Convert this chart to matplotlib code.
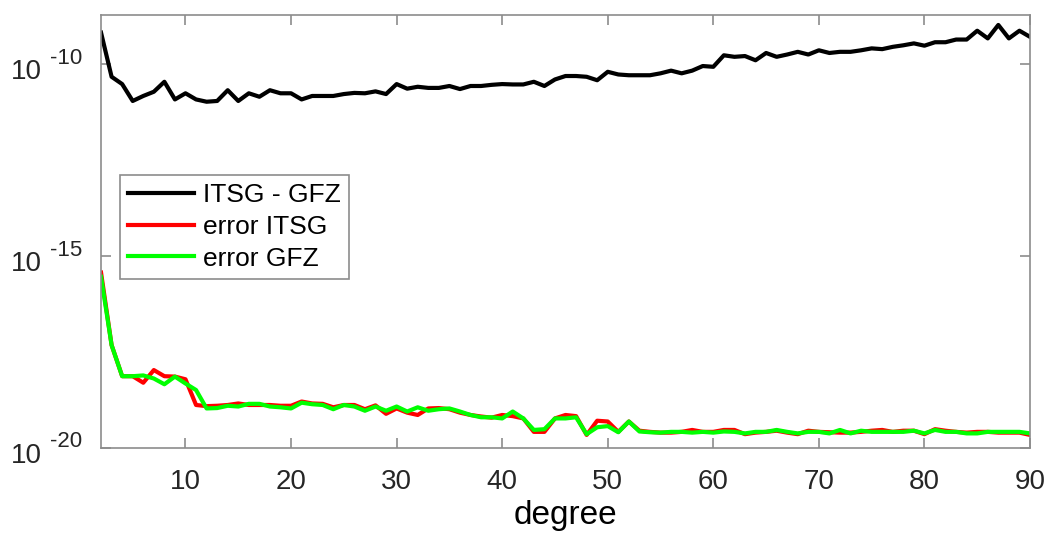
import numpy as np
import matplotlib
matplotlib.use("Agg")
import matplotlib.pyplot as plt
from matplotlib.ticker import FixedLocator, NullFormatter, NullLocator

plt.rcParams["font.family"] = ["Liberation Sans", "DejaVu Sans"]

# spherical harmonic degree 2..90
degree = np.arange(2, 91)

# log10 of the values
itsg_gfz_log = [
    -9.18, -10.33, -10.52, -10.96, -10.83, -10.72, -10.46, -10.92, -10.76,
    -10.92, -10.98, -10.96, -10.68, -10.96, -10.76, -10.85, -10.68, -10.76,
    -10.76, -10.92, -10.83, -10.83, -10.83, -10.78, -10.75, -10.76, -10.71,
    -10.78, -10.52, -10.64, -10.59, -10.62, -10.62, -10.57, -10.65, -10.57,
    -10.57, -10.54, -10.52, -10.53, -10.53, -10.46, -10.57, -10.40, -10.31,
    -10.31, -10.33, -10.42, -10.20, -10.27, -10.29, -10.29, -10.29, -10.24,
    -10.17, -10.24, -10.17, -10.05, -10.07, -9.77, -9.81, -9.79, -9.90,
    -9.71, -9.81, -9.75, -9.68, -9.75, -9.64, -9.71, -9.68, -9.68, -9.64,
    -9.59, -9.61, -9.55, -9.51, -9.46, -9.52, -9.43, -9.43, -9.36, -9.36,
    -9.13, -9.33, -8.98, -9.33, -9.13, -9.29,
]

error_itsg_log = [
    -15.43, -17.32, -18.13, -18.13, -18.30, -17.97, -18.13, -18.14, -18.21,
    -18.88, -18.91, -18.90, -18.88, -18.84, -18.88, -18.88, -18.88, -18.90,
    -18.90, -18.79, -18.84, -18.85, -18.94, -18.88, -18.88, -18.99, -18.89,
    -19.11, -18.97, -19.08, -19.14, -18.97, -18.96, -18.99, -19.08, -19.14,
    -19.18, -19.21, -19.14, -19.17, -19.23, -19.58, -19.58, -19.23, -19.14,
    -19.17, -19.66, -19.29, -19.31, -19.58, -19.31, -19.55, -19.58, -19.60,
    -19.60, -19.58, -19.53, -19.58, -19.58, -19.53, -19.53, -19.64, -19.60,
    -19.58, -19.55, -19.60, -19.64, -19.55, -19.58, -19.59, -19.60, -19.60,
    -19.58, -19.55, -19.53, -19.58, -19.55, -19.55, -19.64, -19.51, -19.55,
    -19.58, -19.60, -19.58, -19.58, -19.60, -19.60, -19.60, -19.66,
]

error_gfz_log = [
    -15.54, -17.32, -18.13, -18.13, -18.11, -18.19, -18.34, -18.14, -18.32,
    -18.49, -18.97, -18.96, -18.90, -18.92, -18.85, -18.85, -18.92, -18.94,
    -18.97, -18.82, -18.86, -18.88, -18.99, -18.88, -18.92, -19.03, -18.92,
    -19.03, -18.92, -19.05, -18.94, -19.03, -18.99, -18.97, -19.05, -19.14,
    -19.20, -19.20, -19.23, -19.05, -19.23, -19.53, -19.51, -19.23, -19.23,
    -19.20, -19.64, -19.46, -19.43, -19.59, -19.31, -19.57, -19.59, -19.60,
    -19.58, -19.58, -19.60, -19.58, -19.60, -19.57, -19.58, -19.62, -19.58,
    -19.58, -19.53, -19.58, -19.62, -19.58, -19.58, -19.62, -19.53, -19.62,
    -19.55, -19.58, -19.58, -19.58, -19.58, -19.55, -19.62, -19.53, -19.58,
    -19.58, -19.62, -19.62, -19.58, -19.58, -19.58, -19.58, -19.62,
]

labels = ["ITSG - GFZ", "error ITSG", "error GFZ"]
colors = ["black", "#ff0000", "#00ff00"]

xticks = [10, 20, 30, 40, 50, 60, 70, 80, 90]
yticks = [1e-20, 1e-15, 1e-10]
ytick_exponents = ["-20", "-15", "-10"]

fig = plt.figure(figsize=(10.46, 5.33), dpi=100)
ax = fig.add_axes([0.0966, 0.1595, 0.8881, 0.8124])

series = [itsg_gfz_log, error_itsg_log, error_gfz_log]
for vals, lab, col in zip(series, labels, colors):
    ax.plot(degree, 10.0 ** np.array(vals), color=col, lw=3, label=lab)

ax.set_yscale("log")
ax.set_xlim(2, 90)
ax.set_ylim(1e-20, 10 ** -8.72)

ax.xaxis.set_major_locator(FixedLocator(xticks))
ax.yaxis.set_major_locator(FixedLocator(yticks))
ax.yaxis.set_major_formatter(NullFormatter())
ax.yaxis.set_minor_locator(NullLocator())
ax.yaxis.set_minor_formatter(NullFormatter())
ax.xaxis.set_minor_locator(NullLocator())

# MATLAB-style "10 ^-n" labels: base and exponent as separate texts
txt_color = "#262626"
ytrans = ax.get_yaxis_transform()
for yt, ex in zip(yticks, ytick_exponents):
    ax.annotate("10", xy=(0, yt), xycoords=ytrans, xytext=(-59, -8),
                textcoords="offset pixels", ha="right", va="center",
                fontsize=20, color=txt_color, annotation_clip=False)
    ax.annotate(ex, xy=(0, yt), xycoords=ytrans, xytext=(-19, 6),
                textcoords="offset pixels", ha="right", va="center",
                fontsize=16, color=txt_color, annotation_clip=False)

gray = "#8c8c8c"
for sp in ax.spines.values():
    sp.set_color(gray)
    sp.set_linewidth(1.2)
ax.tick_params(axis="both", which="major", direction="in", length=7,
               width=1.2, color=gray, labelsize=20, labelcolor=txt_color,
               top=True, right=True, pad=15)

ax.set_xlabel("degree", fontsize=24, color="black", labelpad=4)

leg = ax.legend(loc="upper left", bbox_to_anchor=(0.0205, 0.6305),
                fontsize=19, frameon=True, fancybox=False, framealpha=1,
                edgecolor=gray, handlelength=2.5, handletextpad=0.35,
                labelspacing=0.3, borderpad=0.3, borderaxespad=0)
leg.get_frame().set_linewidth(1.2)

fig.savefig("out.png", dpi=100)
